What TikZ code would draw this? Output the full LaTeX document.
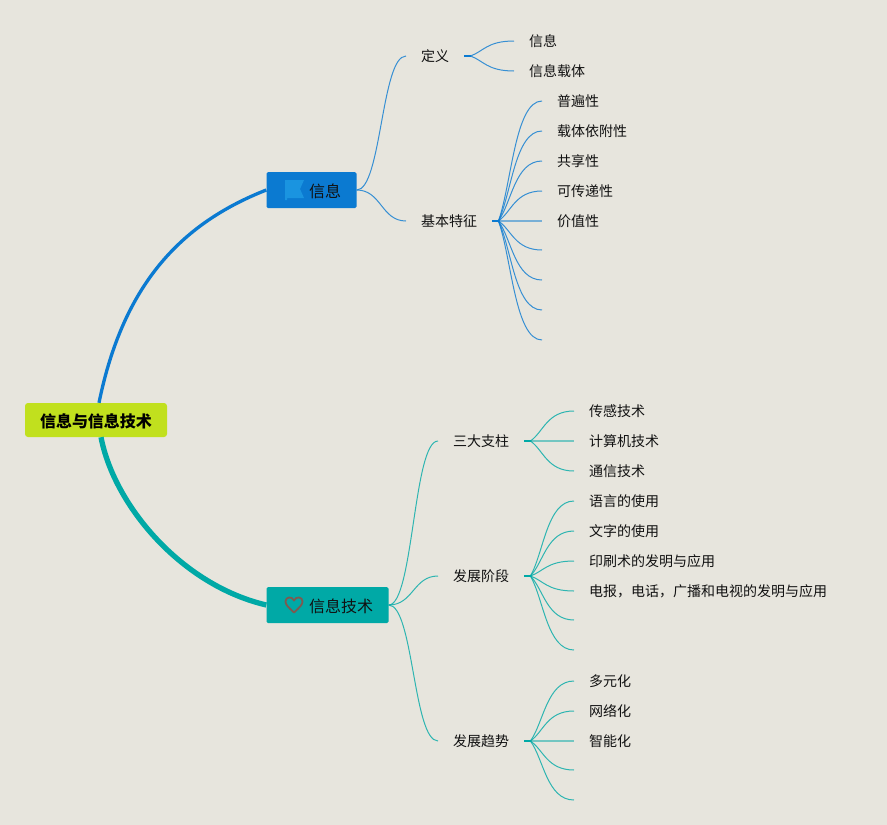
\documentclass[tikz,border=0pt]{standalone}
\usepackage{fontspec}
\setmainfont{Noto Sans CJK SC}
\usetikzlibrary{calc}
\definecolor{bgc}{HTML}{E7E5DD}
\definecolor{blueb}{HTML}{0B7AD1}
\definecolor{tealb}{HTML}{00A9A6}
\definecolor{limeb}{HTML}{C1E01E}
\definecolor{flagc}{HTML}{1A94E0}
\definecolor{heartc}{HTML}{7D5A50}
\definecolor{inkc}{HTML}{111111}
\tikzset{
  x=1pt,y=-1pt,
  lab/.style={anchor=west,inner xsep=15pt,inner ysep=0pt,font=\fontsize{14}{16}\selectfont,text=inkc,text height=13.8pt,text depth=2pt},
  topic/.style={anchor=center,rounded corners=1.5pt,minimum height=36pt,inner sep=0pt},
  topict/.style={anchor=west,inner sep=0pt,font=\fontsize{16}{18}\selectfont,text=inkc,text height=16pt,text depth=2pt},
  rootn/.style={anchor=center,fill=limeb,rounded corners=3pt,font=\fontsize{16}{18}\selectfont\bfseries,text=black,minimum width=142pt,minimum height=34pt,inner sep=0pt,text height=16.5pt,text depth=2pt},
  thinb/.style={draw=blueb,line width=1pt,opacity=0.8},
  thint/.style={draw=tealb,line width=1pt,opacity=0.8},
  stub/.style={line width=2pt,line cap=butt},
  flatb/.style={draw=blueb,line width=1.6pt,opacity=0.5},
  flatt/.style={draw=tealb,line width=1.6pt,opacity=0.5}
}
% symmetric S-curve between two named points
\newcommand{\scurv}[2]{%
  let \p1=(#1),\p2=(#2),\n1={0.5*(\x1+\x2)} in (\p1) .. controls (\n1,\y1) and (\n1,\y2) .. (\p2)}
% fan curve: leaves 6 units right of the parent, ends level at the child
\newcommand{\fanc}[2]{%
  let \p1=($(#1)+(6,0)$),\p2=(#2),\n1={\x1+0.3*(\x2-\x1)},\n2={\y1+0.3*(\y2-\y1)},\n3={\x1+0.38*(\x2-\x1)} in
  (\p1) .. controls (\n1,\n2) and (\n3,\y2) .. (\p2)}
\newcommand{\stubl}[1]{let \p1=(#1) in (\p1) -- ($(\p1)+(7,0)$)}
\begin{document}
\begin{tikzpicture}
\useasboundingbox (0,0) rectangle (887,825);
\fill[bgc] (0,0) rectangle (887,825);
% nodes
\node[rootn] (root) at (96,420) {信息与信息技术};
\node[topic,fill=blueb,minimum width=90pt] (info) at (311.5,190) {};
\node[topic,fill=tealb,minimum width=122pt] (tech) at (327.5,605) {};
\node[topict] (infot) at (309,190) {信息};
\node[topict] (techt) at (309,605) {信息技术};
% icons
\fill[flagc] (285,180) -- (304,180) -- (300,189) -- (304,198) -- (287,198) -- (287,200) -- (285,200) -- cycle;
\draw[heartc,line width=1.8pt,line join=round] (294,612.5) .. controls (288,607) and (285.5,604.5) .. (285.5,601.5) .. controls (285.5,596.5) and (292,596) .. (294,600.5) .. controls (296,596) and (302.5,596.5) .. (302.5,601.5) .. controls (302.5,604.5) and (300,607) .. (294,612.5) -- cycle;
% level 2
\node[lab] (def) at (406,56) {定义};
\node[lab] (feat) at (406,221) {基本特征};
\node[lab] (pill) at (438,441) {三大支柱};
\node[lab] (stage) at (438,576) {发展阶段};
\node[lab] (trend) at (438,741) {发展趋势};
% level 3
\node[lab] (a1) at (514,41) {信息};
\node[lab] (a2) at (514,71) {信息载体};
\node[lab] (b1) at (542,101) {普遍性};
\node[lab] (b2) at (542,131) {载体依附性};
\node[lab] (b3) at (542,161) {共享性};
\node[lab] (b4) at (542,191) {可传递性};
\node[lab] (b5) at (542,221) {价值性};
\coordinate (b6) at (542,250);
\coordinate (b7) at (542,280);
\coordinate (b8) at (542,310);
\coordinate (b9) at (542,340);
\node[lab] (c1) at (574,411) {传感技术};
\node[lab] (c2) at (574,441) {计算机技术};
\node[lab] (c3) at (574,471) {通信技术};
\node[lab] (d1) at (574,501) {语言的使用};
\node[lab] (d2) at (574,531) {文字的使用};
\node[lab] (d3) at (574,561) {印刷术的发明与应用};
\node[lab] (d4) at (574,591) {电报，电话，广播和电视的发明与应用};
\coordinate (d5) at (574,620);
\coordinate (d6) at (574,650);
\node[lab] (e1) at (574,681) {多元化};
\node[lab] (e2) at (574,711) {网络化};
\node[lab] (e3) at (574,741) {智能化};
\coordinate (e4) at (574,770);
\coordinate (e5) at (574,800);
% main branches
\coordinate (bx) at (99,0);
\coordinate (tx) at (101,0);
\draw[blueb,line width=3.3pt] (root.north -| bx) .. controls (124,280) and (185,222) .. (info.west);
\draw[tealb,line width=5.3pt] (root.south -| tx) .. controls (114,505) and (181,585) .. (tech.west);
% thin connectors
\foreach \s/\t in {info.east/def.west,info.east/feat.west} \draw[thinb] \scurv{\s}{\t};
\foreach \s/\t in {tech.east/pill.west,tech.east/stage.west,tech.east/trend.west} \draw[thint] \scurv{\s}{\t};
\foreach \s/\t in {def.east/a1.west,def.east/a2.west,
 feat.east/b1.west,feat.east/b2.west,feat.east/b3.west,feat.east/b4.west,feat.east/b6,feat.east/b7,feat.east/b8,feat.east/b9}
 \draw[thinb] \fanc{\s}{\t};
\foreach \s/\t in {pill.east/c1.west,pill.east/c3.west,
 stage.east/d1.west,stage.east/d2.west,stage.east/d3.west,stage.east/d4.west,stage.east/d5,stage.east/d6,
 trend.east/e1.west,trend.east/e2.west,trend.east/e4,trend.east/e5}
 \draw[thint] \fanc{\s}{\t};
\draw[flatb] (feat.east) -- (b5.west);
\draw[flatt] (pill.east) -- (c2.west);
\draw[flatt] (trend.east) -- (e3.west);
\foreach \s in {def.east,feat.east} \draw[stub,blueb] \stubl{\s};
\foreach \s in {pill.east,stage.east,trend.east} \draw[stub,tealb] \stubl{\s};
\end{tikzpicture}
\end{document}
